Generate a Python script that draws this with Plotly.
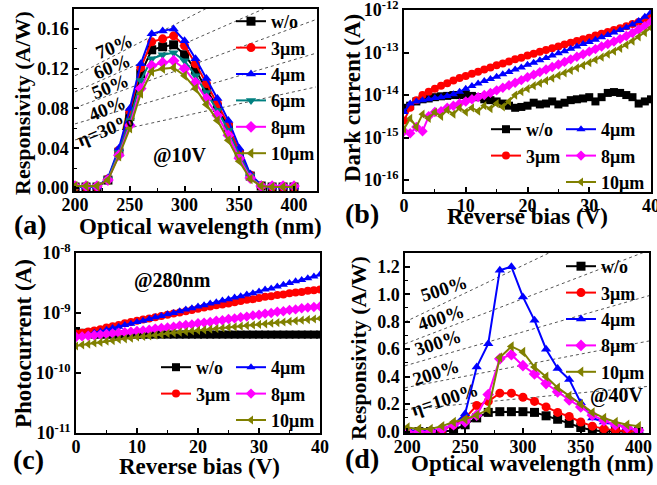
import plotly.graph_objects as go

W, H = 657, 485
FONT = "Liberation Serif, Times New Roman, serif"

# ---------------- data ----------------
wavelength = [200, 210, 220, 230, 240, 250, 260, 270, 280, 290, 300,
              310, 320, 330, 340, 350, 360, 370, 380, 390, 400]

# (a) responsivity @10V (A/W)
resp10_wo = [0.001, 0.001, 0.001, 0.008, 0.036, 0.072, 0.115, 0.139, 0.142, 0.144, 0.134,
             0.119, 0.099, 0.081, 0.061, 0.034, 0.012, 0.002, 0.001, 0.001, 0.001]
resp10_3um = [0.001, 0.001, 0.001, 0.009, 0.038, 0.077, 0.121, 0.147, 0.150, 0.153, 0.143,
              0.125, 0.105, 0.085, 0.064, 0.036, 0.013, 0.002, 0.001, 0.001, 0.001]
resp10_4um = [0.001, 0.001, 0.001, 0.010, 0.040, 0.080, 0.125, 0.155, 0.158, 0.160, 0.148,
              0.130, 0.110, 0.090, 0.068, 0.040, 0.014, 0.003, 0.001, 0.001, 0.001]
resp10_6um = [0.001, 0.001, 0.001, 0.009, 0.036, 0.068, 0.108, 0.130, 0.134, 0.136, 0.128,
              0.113, 0.096, 0.078, 0.058, 0.033, 0.012, 0.002, 0.001, 0.001, 0.001]
resp10_8um = [0.002, 0.002, 0.002, 0.008, 0.033, 0.063, 0.100, 0.123, 0.126, 0.128, 0.120,
              0.106, 0.090, 0.073, 0.053, 0.030, 0.010, 0.002, 0.002, 0.002, 0.002]
resp10_10um = [0.002, 0.002, 0.002, 0.008, 0.032, 0.060, 0.095, 0.117, 0.120, 0.121, 0.113,
               0.100, 0.084, 0.068, 0.048, 0.027, 0.009, 0.002, 0.001, 0.001, 0.001]

bias = list(range(0, 41))

# (b) dark current, log10(A)
dark_wo_log10 = [-14.30, -14.25, -14.15, -14.10, -14.08, -14.05, -14.03, -14.02, -14.00, -14.00,
                 -13.98, -14.02, -14.05, -14.10, -14.12, -14.15, -14.20, -14.25, -14.30, -14.28,
                 -14.25, -14.18, -14.22, -14.20, -14.15, -14.22, -14.18, -14.12, -14.10, -14.08,
                 -14.05, -14.15, -14.05, -13.95, -13.93, -13.95, -14.00, -14.05, -14.20, -14.15,
                 -14.10]
dark_3um_log10 = [-14.60, -14.30, -14.12, -14.00, -13.92, -13.85, -13.78, -13.72, -13.66, -13.60,
                  -13.55, -13.50, -13.45, -13.40, -13.35, -13.30, -13.26, -13.21, -13.16, -13.12,
                  -13.07, -13.03, -12.98, -12.94, -12.90, -12.86, -12.81, -12.77, -12.73, -12.69,
                  -12.65, -12.60, -12.56, -12.52, -12.47, -12.43, -12.38, -12.33, -12.28, -12.22,
                  -12.17]
dark_4um_log10 = [-14.40, -14.20, -14.15, -14.12, -14.10, -14.07, -14.05, -14.02, -13.98, -13.92,
                  -13.85, -13.79, -13.73, -13.67, -13.62, -13.57, -13.51, -13.46, -13.40, -13.35,
                  -13.29, -13.24, -13.18, -13.13, -13.07, -13.02, -12.97, -12.91, -12.86, -12.80,
                  -12.75, -12.70, -12.64, -12.59, -12.53, -12.47, -12.41, -12.34, -12.26, -12.16,
                  -12.05]
dark_8um_log10 = [-14.85, -14.90, -14.75, -14.85, -14.50, -14.40, -14.38, -14.30, -14.25, -14.20,
                  -14.15, -14.10, -14.05, -14.00, -13.95, -13.89, -13.83, -13.77, -13.71, -13.65,
                  -13.58, -13.52, -13.46, -13.40, -13.34, -13.28, -13.22, -13.16, -13.10, -13.04,
                  -12.98, -12.92, -12.86, -12.80, -12.74, -12.68, -12.61, -12.54, -12.46, -12.38,
                  -12.28]
dark_10um_log10 = [-14.80, -14.55, -14.75, -14.45, -14.55, -14.40, -14.50, -14.35, -14.45, -14.30,
                   -14.40, -14.30, -14.38, -14.25, -14.32, -14.20, -14.28, -14.15, -14.00, -13.92,
                   -13.85, -13.78, -13.72, -13.66, -13.60, -13.54, -13.48, -13.42, -13.36, -13.30,
                   -13.24, -13.17, -13.11, -13.04, -12.97, -12.90, -12.82, -12.73, -12.63, -12.53,
                   -12.42]

# (c) photocurrent @280nm, log10(A)
photo_wo_log10 = [-9.30, -9.33, -9.35, -9.36, -9.36, -9.36, -9.36, -9.36, -9.36, -9.36,
                  -9.36, -9.36, -9.36, -9.36, -9.36, -9.36, -9.36, -9.36, -9.36, -9.36,
                  -9.36, -9.36, -9.36, -9.36, -9.36, -9.36, -9.36, -9.36, -9.36, -9.36,
                  -9.36, -9.36, -9.36, -9.36, -9.36, -9.36, -9.36, -9.36, -9.36, -9.36,
                  -9.36]
photo_3um_log10 = [-9.34, -9.33, -9.31, -9.29, -9.27, -9.24, -9.22, -9.20, -9.17, -9.15,
                   -9.13, -9.11, -9.09, -9.07, -9.05, -9.03, -9.01, -8.99, -8.97, -8.95,
                   -8.93, -8.91, -8.89, -8.87, -8.86, -8.84, -8.82, -8.80, -8.78, -8.77,
                   -8.75, -8.73, -8.72, -8.70, -8.69, -8.67, -8.66, -8.65, -8.63, -8.62,
                   -8.61]
photo_4um_log10 = [-9.40, -9.38, -9.36, -9.33, -9.31, -9.28, -9.25, -9.23, -9.20, -9.18,
                   -9.15, -9.13, -9.10, -9.07, -9.05, -9.02, -9.00, -8.97, -8.94, -8.92,
                   -8.89, -8.87, -8.84, -8.82, -8.79, -8.77, -8.74, -8.72, -8.69, -8.67,
                   -8.64, -8.61, -8.59, -8.56, -8.53, -8.50, -8.47, -8.45, -8.42, -8.39,
                   -8.36]
photo_8um_log10 = [-9.40, -9.39, -9.38, -9.37, -9.36, -9.35, -9.34, -9.33, -9.32, -9.31,
                   -9.30, -9.29, -9.28, -9.26, -9.25, -9.24, -9.23, -9.21, -9.20, -9.19,
                   -9.17, -9.16, -9.15, -9.13, -9.12, -9.10, -9.09, -9.07, -9.06, -9.04,
                   -9.03, -9.01, -9.00, -8.98, -8.97, -8.95, -8.94, -8.92, -8.91, -8.90,
                   -8.89]
photo_10um_log10 = [-9.55, -9.53, -9.52, -9.50, -9.49, -9.47, -9.46, -9.44, -9.43, -9.42,
                    -9.40, -9.39, -9.38, -9.37, -9.36, -9.34, -9.33, -9.32, -9.31, -9.30,
                    -9.29, -9.28, -9.27, -9.26, -9.25, -9.24, -9.23, -9.22, -9.21, -9.20,
                    -9.19, -9.18, -9.17, -9.16, -9.15, -9.14, -9.13, -9.12, -9.11, -9.10,
                    -9.09]

# (d) responsivity @40V (A/W)
resp40_wo = [0.000, 0.000, 0.000, 0.000, 0.010, 0.050, 0.100, 0.140, 0.145, 0.145, 0.145,
             0.140, 0.115, 0.090, 0.060, 0.030, 0.010, 0.002, 0.000, 0.000, 0.000]
resp40_3um = [0.000, 0.000, 0.000, 0.010, 0.050, 0.100, 0.190, 0.220, 0.280, 0.280, 0.250,
              0.220, 0.180, 0.140, 0.110, 0.070, 0.040, 0.020, 0.010, 0.005, 0.000]
resp40_4um = [0.010, 0.005, 0.005, 0.020, 0.050, 0.130, 0.470, 0.640, 1.175, 1.200, 0.980,
              0.810, 0.600, 0.460, 0.380, 0.210, 0.100, 0.070, 0.050, 0.030, 0.010]
resp40_8um = [0.000, 0.000, 0.000, 0.020, 0.050, 0.070, 0.120, 0.270, 0.530, 0.560, 0.480,
              0.420, 0.350, 0.290, 0.230, 0.180, 0.120, 0.080, 0.050, 0.030, 0.010]
resp40_10um = [0.030, 0.020, 0.020, 0.040, 0.070, 0.090, 0.120, 0.160, 0.540, 0.620, 0.580,
               0.470, 0.400, 0.320, 0.260, 0.200, 0.140, 0.100, 0.070, 0.050, 0.040]

# quantum-efficiency reference lines
eta_a = [0.3, 0.4, 0.5, 0.6, 0.7]
eta_a_labels = ["η=30%", "40%", "50%", "60%", "70%"]
eta_d = [1.0, 2.0, 3.0, 4.0, 5.0]
eta_d_labels = ["η=100%", "200%", "300%", "400%", "500%"]
eta_wl_a = [200, 420]
eta_wl_d = [198, 410]

# series style
STY = {
    "w/o": ("#000000", "square"),
    "3μm": ("#FF0000", "circle"),
    "4μm": ("#0000FF", "triangle-up"),
    "6μm": ("#008080", "triangle-down"),
    "8μm": ("#FF00FF", "diamond"),
    "10μm": ("#808000", "triangle-left"),
}

fig = go.Figure()


def px_x(p):
    return p / W


def px_y(p):
    return 1 - p / H


def add_series(x, y, name, xa, ya, legend, msize=9):
    c, s = STY[name]
    fig.add_trace(go.Scatter(
        x=x, y=y, name=name, mode="lines+markers", xaxis=xa, yaxis=ya,
        legend=legend, line=dict(color=c, width=2),
        marker=dict(symbol=s, size=msize, color=c, line=dict(width=0)),
    ))


def add_eta(etas, wls, xa, ya):
    for e in etas:
        fig.add_trace(go.Scatter(
            x=wls, y=[e * w / 1240 for w in wls], mode="lines", xaxis=xa, yaxis=ya,
            showlegend=False, hoverinfo="skip",
            line=dict(color="#555555", width=1, dash="dot"),
        ))


# (a)
add_eta(eta_a, eta_wl_a, "x", "y")
for nm, arr in [("w/o", resp10_wo), ("3μm", resp10_3um), ("4μm", resp10_4um),
                ("6μm", resp10_6um), ("8μm", resp10_8um), ("10μm", resp10_10um)]:
    add_series(wavelength, arr, nm, "x", "y", "legend")

# (b)
for nm, arr, lg in [("w/o", dark_wo_log10, "legend2"), ("3μm", dark_3um_log10, "legend2"),
                    ("4μm", dark_4um_log10, "legend3"), ("8μm", dark_8um_log10, "legend3"),
                    ("10μm", dark_10um_log10, "legend3")]:
    add_series(bias, [10 ** v for v in arr], nm, "x2", "y2", lg, msize=8)

# (c)
for nm, arr, lg in [("w/o", photo_wo_log10, "legend4"), ("3μm", photo_3um_log10, "legend4"),
                    ("4μm", photo_4um_log10, "legend5"), ("8μm", photo_8um_log10, "legend5"),
                    ("10μm", photo_10um_log10, "legend5")]:
    add_series(bias, [10 ** v for v in arr], nm, "x3", "y3", lg, msize=8)

# (d)
add_eta(eta_d, eta_wl_d, "x4", "y4")
for nm, arr in [("w/o", resp40_wo), ("3μm", resp40_3um), ("4μm", resp40_4um),
                ("8μm", resp40_8um), ("10μm", resp40_10um)]:
    add_series(wavelength, arr, nm, "x4", "y4", "legend6")

tickfont = dict(family=FONT, size=18, color="black", weight="bold")


def axis(dom, **kw):
    d = dict(domain=dom, showline=True, linecolor="black", linewidth=1.5, mirror=True,
             ticks="inside", ticklen=5, tickwidth=1.5, tickcolor="black", automargin=False,
             showgrid=False, zeroline=False, tickfont=tickfont, ticklabeloverflow="allow")
    d.update(kw)
    return d


panels = {
    "a": (74, 317, 9, 191),
    "b": (404, 651, 10, 192),
    "c": (76, 320, 253, 433),
    "d": (405, 649, 253, 433),
}


def xdom(k):
    p = panels[k]
    return [px_x(p[0]), px_x(p[1])]


def ydom(k):
    p = panels[k]
    return [px_y(p[3]), px_y(p[2])]


logvals_b = [1e-16, 1e-15, 1e-14, 1e-13, 1e-12]
logtext_b = ["10<sup>-16</sup>", "10<sup>-15</sup>", "10<sup>-14</sup>", "10<sup>-13</sup>", "10<sup>-12</sup>"]
logvals_c = [1e-11, 1e-10, 1e-9, 1e-8]
logtext_c = ["10<sup>-11</sup>", "10<sup>-10</sup>", "10<sup>-9</sup>", "10<sup>-8</sup>"]

minor_in = dict(ticks="inside", ticklen=3, tickwidth=1, tickcolor="black")
XSO = -3

fig.update_layout(
    template="none",
    width=W, height=H, margin=dict(l=0, r=0, t=0, b=0, pad=0, autoexpand=False),
    paper_bgcolor="white", plot_bgcolor="white",
    font=dict(family=FONT, color="black"),
    xaxis=axis(xdom("a"), anchor="y", range=[199, 421], tickvals=[200, 250, 300, 350, 400],
               ticklabelstandoff=XSO, minor=dict(dtick=25, **minor_in)),
    yaxis=axis(ydom("a"), anchor="x", range=[-0.003, 0.180], tickvals=[0, 0.04, 0.08, 0.12, 0.16],
               tickformat=".2f", minor=dict(dtick=0.02, **minor_in)),
    xaxis2=axis(xdom("b"), anchor="y2", range=[0, 40], tickvals=[0, 10, 20, 30, 40],
                ticklabelstandoff=XSO, minor=dict(dtick=5, **minor_in)),
    yaxis2=axis(ydom("b"), anchor="x2", type="log", range=[-16.28, -12],
                tickvals=logvals_b, ticktext=logtext_b),
    xaxis3=axis(xdom("c"), anchor="y3", range=[0, 40], tickvals=[0, 10, 20, 30, 40],
                ticklabelstandoff=XSO, minor=dict(dtick=5, **minor_in)),
    yaxis3=axis(ydom("c"), anchor="x3", type="log", range=[-11, -8],
                tickvals=logvals_c, ticktext=logtext_c),
    xaxis4=axis(xdom("d"), anchor="y4", range=[198, 409], tickvals=[200, 250, 300, 350, 400],
                ticklabelstandoff=XSO, minor=dict(dtick=25, **minor_in)),
    yaxis4=axis(ydom("d"), anchor="x4", range=[-0.01, 1.30],
                tickvals=[0, 0.2, 0.4, 0.6, 0.8, 1.0, 1.2], tickformat=".1f",
                minor=dict(dtick=0.1, **minor_in)),
)

legfont = dict(family=FONT, size=18, color="black", weight="bold")


def leg(xp, yp):
    return dict(x=px_x(xp), y=px_y(yp), xanchor="left", yanchor="top", xref="paper", yref="paper",
                bgcolor="rgba(0,0,0,0)", borderwidth=0, font=legfont, tracegroupgap=0,
                itemwidth=30)


fig.update_layout(
    legend=leg(231, 3),
    legend2=leg(486, 111),
    legend3=leg(561, 111),
    legend4=leg(156, 349),
    legend5=leg(231, 349),
    legend6=leg(561, 248),
)

annots = []


def txt(x, y, s, size, angle=0):
    annots.append(dict(x=px_x(x), y=px_y(y), xref="paper", yref="paper", text="<b>" + s + "</b>",
                       showarrow=False, textangle=angle, xanchor="center", yanchor="middle",
                       font=dict(family=FONT, size=size, color="black")))


# axis titles
txt(200, 226, "Optical wavelength (nm)", 23)
txt(22, 103, "Responsivity (A/W)", 22, -90)
txt(527, 217, "Reverse bias (V)", 23)
txt(353, 98, "Dark current (A)", 23, -90)
txt(199, 466, "Reverse bias (V)", 23)
txt(23, 344, "Photocurrent (A)", 23, -90)
txt(532, 463, "Optical wavelength (nm)", 23)
txt(358, 348, "Responsivity (A/W)", 22, -90)

# panel labels
txt(30, 224, "(a)", 28)
txt(362, 213, "(b)", 28)
txt(28, 459, "(c)", 28)
txt(362, 458, "(d)", 28)

# condition labels
txt(180, 155, "@10V", 20)
txt(172, 280, "@280nm", 20)
txt(617, 395, "@40V", 20)

# efficiency labels
pos_a = [(106, 130), (107, 108), (110, 86), (112, 67), (114, 46)]
for (x, y), s in zip(pos_a, eta_a_labels):
    txt(x, y, s, 19, -22)
pos_d = [(444, 399), (436, 372), (438, 342), (441, 317), (444, 288)]
for (x, y), s in zip(pos_d, eta_d_labels):
    txt(x, y, s, 19, -18)

fig.update_layout(annotations=annots)

# remove the browser's default 8px page margin so the figure fills the window
fig.write_html("out.html", config={"displayModeBar": False},
               post_script="document.body.style.margin='0';document.body.style.overflow='hidden';")
